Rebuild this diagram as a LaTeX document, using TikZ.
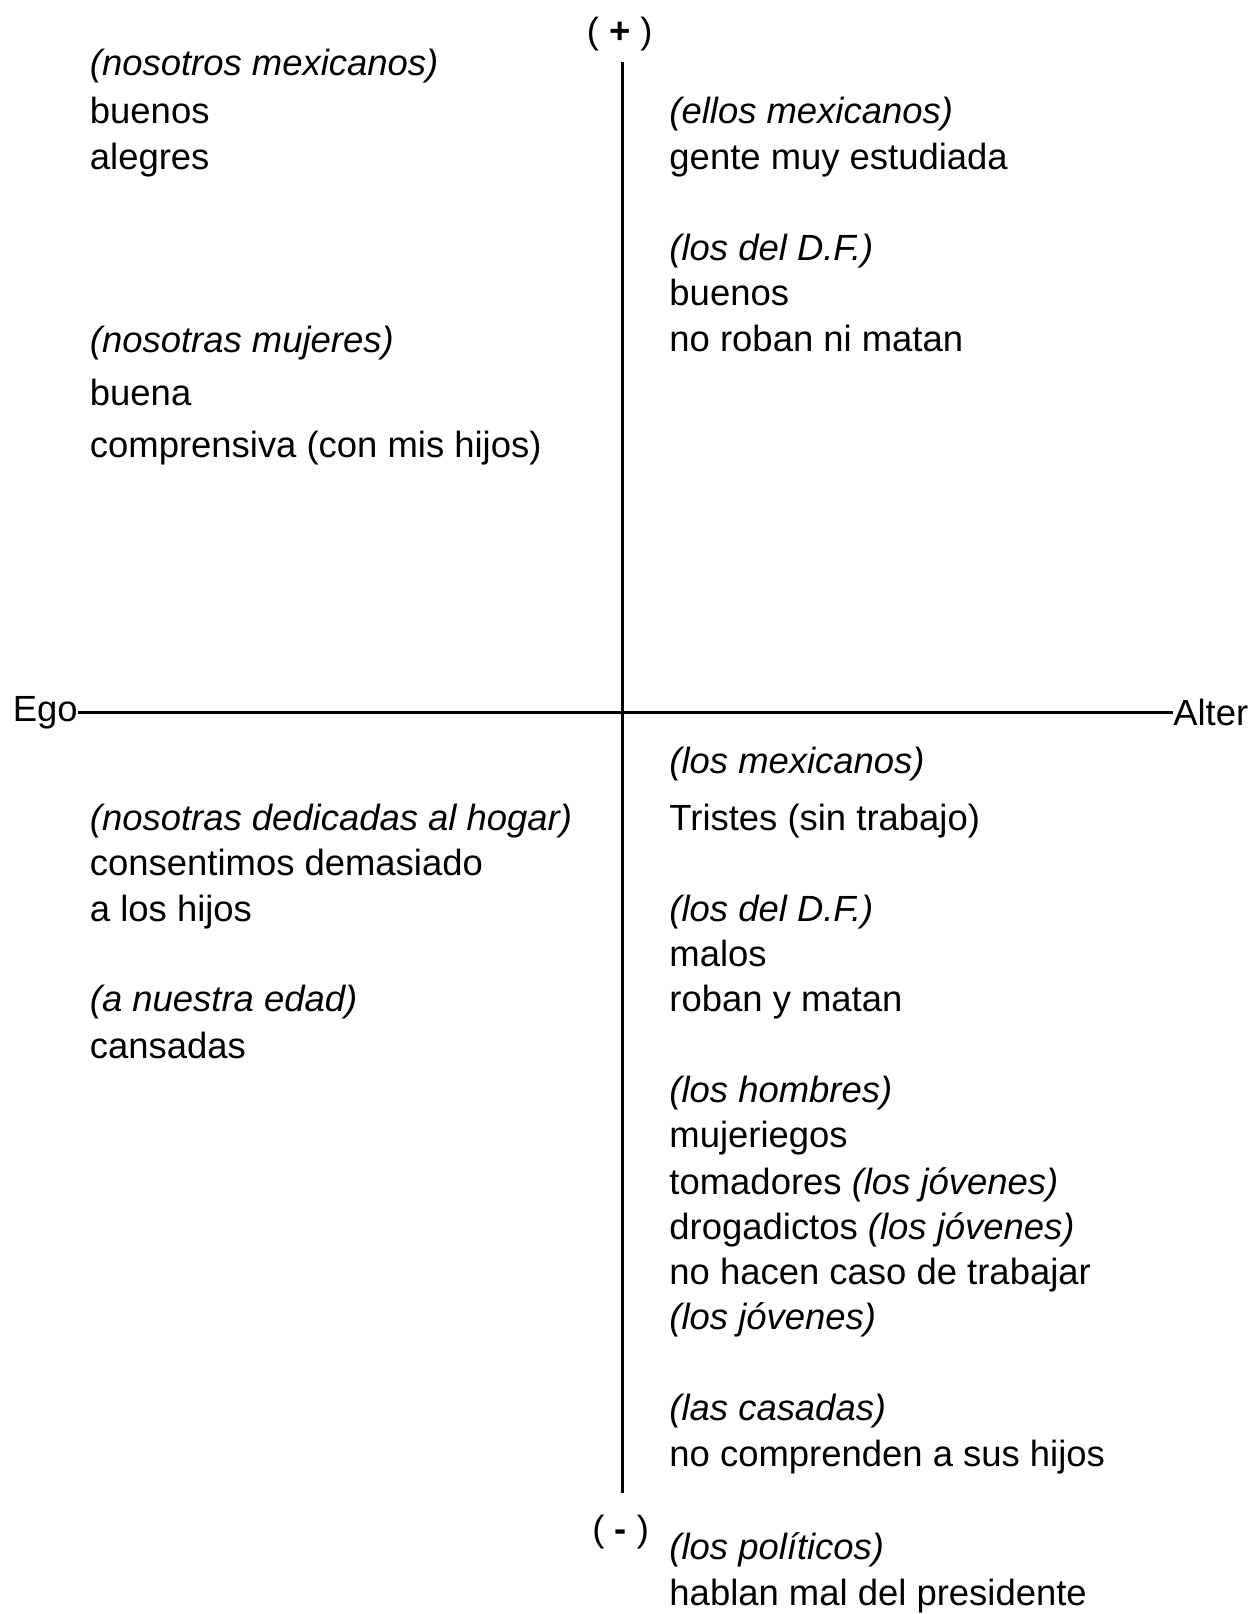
\documentclass[tikz,border=0pt]{standalone}
\usepackage{fontspec}
\setmainfont{Liberation Sans}
\usetikzlibrary{positioning}

\tikzset{
  txt/.style={anchor=base west, inner sep=0pt, font=\fontsize{17.7}{22}\selectfont},
  hd/.style={txt, font=\fontsize{17.7}{22}\selectfont\itshape},
  axis/.style={line width=1.5pt},
  pole/.style={inner sep=0pt, font=\fontsize{17.7}{22}\selectfont}
}

\begin{document}
\begin{tikzpicture}[x=0.5pt, y=-0.5pt]
  \useasboundingbox (0,0) rectangle (1216,1568);

  % ejes
  \node[pole] (plus) at (602,33) {( \textbf{+} )};
  \node[pole] (minus) at (603,1488) {( \textbf{-} )};
  \node[pole, anchor=west] (ego) at (12,692) {Ego};
  \node[pole, anchor=east] (alter) at (1213,692) {Alter};
  \coordinate (top) at (605,60);
  \coordinate (bot) at (605,1450);
  \draw[axis] (top) -- (bot);
  \draw[axis] (ego.east) -- (alter.west);

  % cuadrante superior izquierdo
  \node[hd] (nosMex) at (87,73) {(nosotros mexicanos)};
  \node[txt] (nosMexA) at (87,120) {buenos};
  \node[txt] (nosMexB) at (87,165) {alegres};
  \node[hd] (nosMuj) at (87,342) {(nosotras mujeres)};
  \node[txt] (nosMujA) at (87,394) {buena};
  \node[txt] (nosMujB) at (87,444) {comprensiva (con mis hijos)};

  % cuadrante superior derecho
  \node[hd] (ellMex) at (650,120) {(ellos mexicanos)};
  \node[txt] (ellMexA) at (650,165) {gente muy estudiada};
  \node[hd] (dfPos) at (650,253) {(los del D.F.)};
  \node[txt] (dfPosA) at (650,297) {buenos};
  \node[txt] (dfPosB) at (650,341) {no roban ni matan};

  % cuadrante inferior izquierdo
  \node[hd] (hogar) at (87,807) {(nosotras dedicadas al hogar)};
  \node[txt] (hogarA) at (87,851) {consentimos demasiado};
  \node[txt] (hogarB) at (87,895) {a los hijos};
  \node[hd] (edad) at (87,983) {(a nuestra edad)};
  \node[txt] (edadA) at (87,1028) {cansadas};

  % cuadrante inferior derecho
  \node[hd] (losMex) at (650,751) {(los mexicanos)};
  \node[txt] (losMexA) at (650,807) {Tristes (sin trabajo)};
  \node[hd] (dfNeg) at (650,895) {(los del D.F.)};
  \node[txt] (dfNegA) at (650,939) {malos};
  \node[txt] (dfNegB) at (650,983) {roban y matan};
  \node[hd] (homb) at (650,1071) {(los hombres)};
  \node[txt] (hombA) at (650,1115) {mujeriegos};
  \node[txt] (hombB) at (650,1160) {tomadores \textit{(los jóvenes)}};
  \node[txt] (hombC) at (650,1204) {drogadictos \textit{(los jóvenes)}};
  \node[txt] (hombD) at (650,1248) {no hacen caso de trabajar};
  \node[hd] (hombE) at (650,1292) {(los jóvenes)};
  \node[hd] (cas) at (650,1380) {(las casadas)};
  \node[txt] (casA) at (650,1425) {no comprenden a sus hijos};
  \node[hd] (pol) at (650,1515) {(los políticos)};
  \node[txt] (polA) at (650,1560) {hablan mal del presidente};
\end{tikzpicture}
\end{document}
